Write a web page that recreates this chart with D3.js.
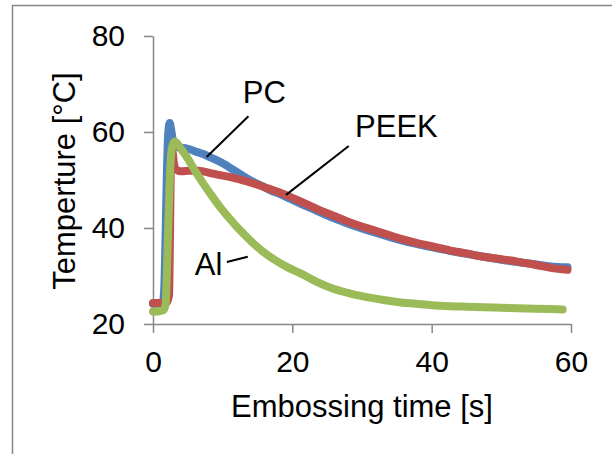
<!DOCTYPE html>
<html lang="en">
<head>
  <meta charset="UTF-8">
  <title>Embossing temperature</title>
  <script src="https://d3js.org/d3.v7.min.js"></script>
  <style>
    html, body { margin: 0; padding: 0; background: #fff; }
    svg { display: block; font-family: "Liberation Sans", Arial, sans-serif; }
  </style>
</head>
<body>
  <div id="chart"></div>

  <script>
  // time [s] and temperature [°C] for each material
  const pcTime = [0, 0.5, 1.0, 1.4, 1.6, 1.8, 2.0, 2.2, 2.4, 2.6, 2.9, 3.4, 4.0, 4.8, 6.0, 7.2, 8.4, 9.6, 10.8, 12.0, 13.2, 14.4, 15.6, 16.8, 18.0, 19.2, 21, 23.5, 26, 28.2, 30, 33.1, 35, 37.8, 40, 42.7, 45, 47.5, 50, 52.3, 55, 57.1, 59.5];
  const pcTemp = [24.2, 24.2, 24.3, 24.4, 27, 38, 52, 60, 61.9, 60.5, 58, 56.9, 56.7, 56.6, 56.0, 55.4, 54.6, 53.8, 52.8, 51.7, 50.6, 49.6, 48.8, 47.9, 47.2, 46.4, 45.2, 43.6, 42.0, 40.8, 39.9, 38.5, 37.7, 36.7, 36.0, 35.2, 34.6, 34.0, 33.4, 32.9, 32.4, 32.0, 31.8];

  const peekTime = [0, 0.5, 1.0, 1.5, 2.0, 2.3, 2.45, 2.6, 2.8, 3.0, 3.3, 4.0, 5.0, 6.0, 7.2, 8.4, 9.6, 10.8, 12.0, 13.2, 14.4, 15.6, 16.8, 18.0, 19.2, 21.1, 23.5, 26, 28.2, 30, 33.1, 35, 37.8, 40, 42.7, 45, 47.5, 50, 52.3, 55, 57.1, 59.5];
  const peekTemp = [24.4, 24.4, 24.4, 24.4, 24.5, 26, 40, 55.5, 55.8, 53.5, 52.2, 51.8, 51.9, 52.0, 51.8, 51.4, 51.0, 50.7, 50.3, 49.8, 49.3, 48.7, 48.1, 47.5, 46.8, 45.6, 44.0, 42.5, 41.2, 40.3, 38.9, 38.0, 36.9, 36.2, 35.3, 34.7, 34.0, 33.5, 33.0, 32.3, 31.7, 31.3];

  const alTime = [0, 0.5, 1.0, 1.5, 1.8, 2.1, 2.4, 2.7, 3.1, 3.6, 4.0, 4.8, 6.0, 7.2, 8.4, 9.6, 10.8, 12.0, 13.2, 14.4, 15.6, 16.8, 18.0, 19.2, 21.1, 23.5, 26, 28.2, 30, 33.1, 35, 37.8, 40, 42.7, 45, 47.5, 50, 52.3, 55, 57.1, 58.8];
  const alTemp = [22.6, 22.6, 22.7, 22.9, 24, 36, 50, 56.5, 58.0, 57.4, 56.5, 54.9, 52.0, 49.3, 46.8, 44.4, 42.3, 40.3, 38.5, 36.8, 35.3, 34.0, 32.9, 31.9, 30.6, 28.8, 27.3, 26.4, 25.8, 25.0, 24.6, 24.2, 23.9, 23.7, 23.6, 23.5, 23.4, 23.3, 23.2, 23.1, 23.0];

  const xTicks = [0, 20, 40, 60];
  const yTicks = [20, 40, 60, 80];

  // callout labels: text anchor and leader line, in data units
  const labelNames = ["PC", "PEEK", "Al"];
  const labelAt = [[12.9, 66.0], [29.0, 59.0], [6.0, 30.2]];
  const leaderFrom = [[13.7, 63.3], [28.1, 57.1], [10.6, 32.9]];
  const leaderTo = [[7.7, 54.8], [19.1, 46.9], [13.6, 34.0]];

  const width = 612, height = 454;
  const margin = { top: 36, right: 41, bottom: 130, left: 153 };

  const svg = d3.select("#chart").append("svg")
    .attr("width", width).attr("height", height);

  // outer chart frame
  svg.append("rect")
    .attr("x", 12.5).attr("y", 5.5)
    .attr("width", 700).attr("height", 600)
    .attr("fill", "none").attr("stroke", "#878787").attr("stroke-width", 1.5);

  const x = d3.scaleLinear().domain([0, 60]).range([margin.left, width - margin.right]);
  const y = d3.scaleLinear().domain([20, 80]).range([height - margin.bottom, margin.top]);

  const axisColor = "#878787";

  const xAxis = svg.append("g")
    .attr("transform", `translate(0,${y(20)})`)
    .call(d3.axisBottom(x).tickValues(xTicks).tickSize(9).tickPadding(18).tickSizeOuter(0));
  const yAxis = svg.append("g")
    .attr("transform", `translate(${x(0)},0)`)
    .call(d3.axisLeft(y).tickValues(yTicks).tickSize(9).tickPadding(19).tickSizeOuter(0));

  [xAxis, yAxis].forEach(g => {
    g.select(".domain").attr("stroke", axisColor).attr("stroke-width", 1.5);
    g.selectAll(".tick line").attr("stroke", axisColor).attr("stroke-width", 1.5);
    g.selectAll(".tick text")
      .attr("fill", "#000")
      .style("font-size", "30px")
      .style("font-family", "'Liberation Sans', Arial, sans-serif");
  });

  const line = d3.line()
    .x(d => x(d[0]))
    .y(d => y(d[1]))
    .curve(d3.curveMonotoneX);

  const series = [
    { time: pcTime, temp: pcTemp, color: "#4f81bd" },
    { time: peekTime, temp: peekTemp, color: "#c0504d" },
    { time: alTime, temp: alTemp, color: "#9bbb59" }
  ];

  svg.selectAll("path.series")
    .data(series)
    .enter().append("path")
    .attr("class", "series")
    .attr("d", s => line(s.time.map((t, i) => [t, s.temp[i]])))
    .attr("fill", "none")
    .attr("stroke", s => s.color)
    .attr("stroke-width", 8)
    .attr("stroke-linejoin", "round")
    .attr("stroke-linecap", "round");

  // leader lines and labels
  svg.selectAll("line.leader")
    .data(labelNames)
    .enter().append("line")
    .attr("class", "leader")
    .attr("x1", (d, i) => x(leaderFrom[i][0]))
    .attr("y1", (d, i) => y(leaderFrom[i][1]))
    .attr("x2", (d, i) => x(leaderTo[i][0]))
    .attr("y2", (d, i) => y(leaderTo[i][1]))
    .attr("stroke", "#000")
    .attr("stroke-width", 2);

  svg.selectAll("text.callout")
    .data(labelNames)
    .enter().append("text")
    .attr("class", "callout")
    .attr("x", (d, i) => x(labelAt[i][0]))
    .attr("y", (d, i) => y(labelAt[i][1]))
    .style("font-size", "31px")
    .text(d => d);

  // axis titles
  svg.append("text")
    .attr("x", (x(0) + x(60)) / 2)
    .attr("y", 417)
    .attr("text-anchor", "middle")
    .style("font-size", "31px")
    .text("Embossing time [s]");

  svg.append("text")
    .attr("transform", `translate(75,181) rotate(-90)`)
    .attr("text-anchor", "middle")
    .style("font-size", "31px")
    .text("Temperture [°C]");
  </script>
</body>
</html>
